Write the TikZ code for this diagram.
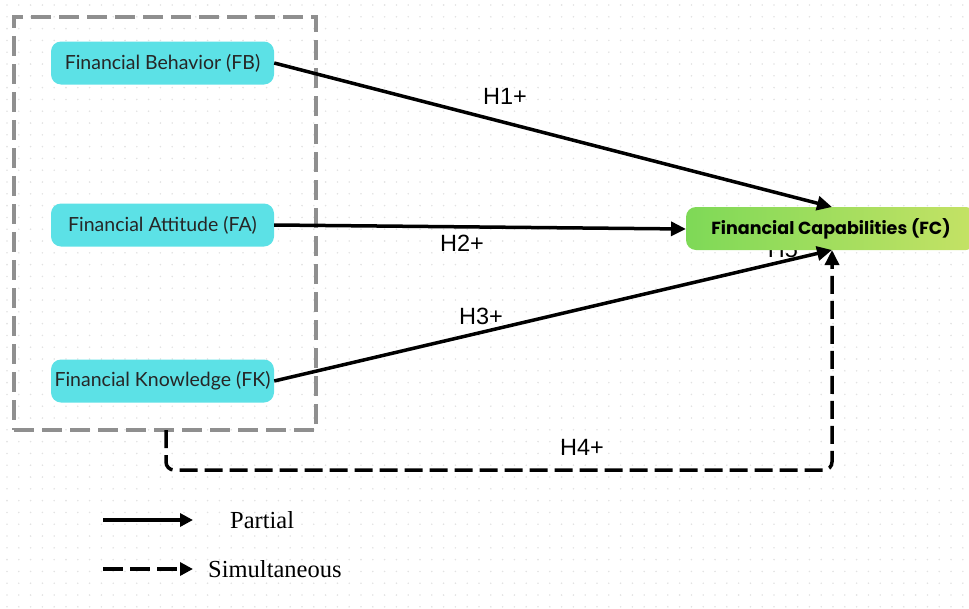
\documentclass[tikz,border=0pt]{standalone}
\usepackage{fontspec}
\setmainfont{Liberation Serif}
\newfontfamily\boxfont{Lato}
\newfontfamily\capfont{Poppins}
\newfontfamily\hfont{Liberation Sans}
\usetikzlibrary{arrows.meta}
\definecolor{cyanbox}{HTML}{5CE1E6}
\definecolor{greenL}{HTML}{7ED957}
\definecolor{greenR}{HTML}{C5E265}
\definecolor{groupgray}{HTML}{8F8F8F}
\definecolor{dotc}{HTML}{E2E2E2}
\tikzset{
  varbox/.style={rounded corners=10pt, fill=cyanbox, minimum width=223pt, minimum height=43pt, inner sep=0pt, font=\boxfont\fontsize{19.5}{22}\selectfont, text=black!85},
  fcbox/.style={rounded corners=10pt, left color=greenL, right color=greenR, minimum width=290pt, minimum height=43pt, inner sep=0pt},
  link/.style={line width=3.5pt, -{Triangle[length=15pt,width=14pt]}},
  dlink/.style={line width=3.5pt, dash pattern=on 18pt off 7pt, rounded corners=8pt, -{Triangle[length=15pt,width=14pt]}},
  hlab/.style={font=\hfont\fontsize{23.5}{26}\selectfont, inner sep=0pt},
  leglab/.style={font=\fontsize{24.5}{28}\selectfont, inner sep=0pt, anchor=west},
  grp/.style={draw=groupgray, line width=4pt, dash pattern=on 20pt off 8pt}
}
\begin{document}
\begin{tikzpicture}[x=1pt,y=-1pt]
\useasboundingbox (0,0) rectangle (969,608);
% dotted background
\foreach \i in {0,...,82}{
  \foreach \j in {0,...,51}{
    \fill[dotc] (7+\i*11.8, 5+\j*11.8) circle[radius=0.9pt];
  }
}
% group box
\node[grp, minimum width=302pt, minimum height=413pt, inner sep=0pt] (grp) at (165,223.5) {};
% variable nodes
\node[varbox] (fb) at (162.5,63) {Financial Behavior (FB)};
\node[varbox] (fa) at (162.5,225) {Financial Attitude (FA)};
\node[varbox] (fk) at (162.5,381) {Financial Knowledge (FK)};
% hidden label
\node[hlab, anchor=base] (h5) at (783,257) {H5};
% target node
\node[fcbox] (fc) at (831,228.5) {};
\node[font=\capfont\bfseries\fontsize{17.5}{20}\selectfont, inner sep=0pt] (fctext) at (831,228.5) {Financial Capabilities (FC)};
\coordinate (fctop) at (832,207);
\coordinate (fcbot) at (832,250);
\coordinate (fcleft) at (686,229);
% connectors
\draw[link] (fb.east) -- (fctop);
\draw[link] (fa.east) -- (fcleft);
\draw[link] (fk.east) -- (fcbot);
\coordinate (gbot) at (166,430);
\coordinate (corner) at (832,470);
\draw[dlink] (gbot) |- (corner) -- (fcbot);
% labels
\node[hlab] (h1) at (505,96) {H1+};
\node[hlab] (h2) at (462,243) {H2+};
\node[hlab] (h3) at (481,316) {H3+};
\node[hlab] (h4) at (582,447) {H4+};
% legend
\coordinate (l1a) at (103,520);
\coordinate (l1b) at (193,520);
\coordinate (l2a) at (103,569);
\coordinate (l2b) at (193,569);
\draw[line width=3.5pt, -{Triangle[length=13pt,width=13pt]}] (l1a) -- (l1b);
\draw[line width=3.5pt, dash pattern=on 20pt off 7pt, -{Triangle[length=13pt,width=13pt]}] (l2a) -- (l2b);
\node[leglab] (lp) at (230,520) {Partial};
\node[leglab] (ls) at (208,569) {Simultaneous};
\end{tikzpicture}
\end{document}
